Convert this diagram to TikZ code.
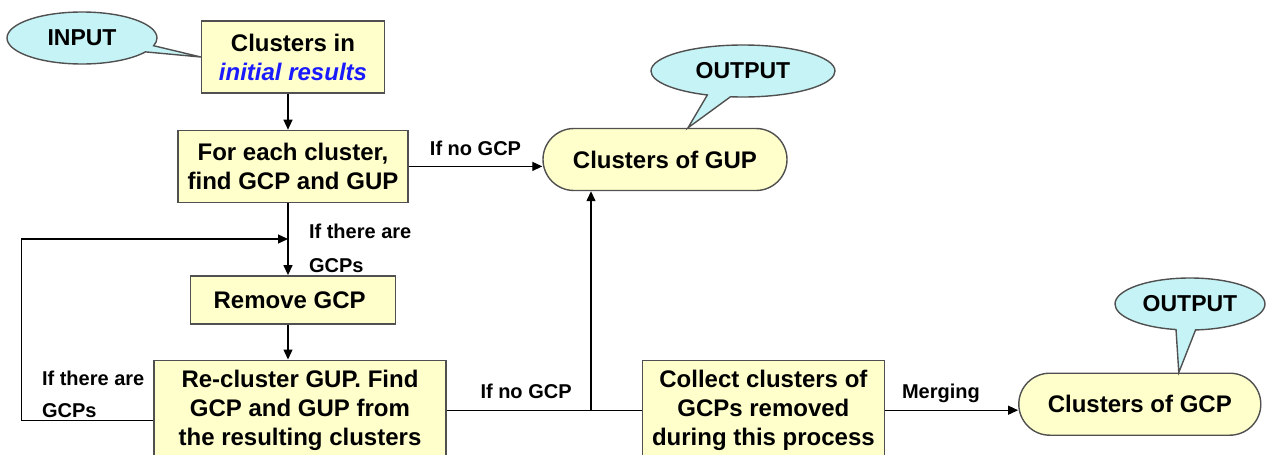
\documentclass[tikz,border=0pt]{standalone}
\usepackage{fontspec}
\setmainfont{Liberation Sans}
\usetikzlibrary{positioning}
\usetikzlibrary{arrows.meta}
\usetikzlibrary{shapes.callouts}
\definecolor{boxyellow}{HTML}{FFFFCC}
\definecolor{calloutcyan}{HTML}{C6F3F6}
\definecolor{initblue}{HTML}{1A1AFF}
\definecolor{edgegray}{HTML}{505050}

\begin{document}
\begin{tikzpicture}[
    x=0.5pt, y=-0.5pt,
    box/.style={
      draw=edgegray,
      fill=boxyellow,
      align=center,
      inner sep=2pt,
      line width=0.7pt,
      font=\fontsize{12}{14.5}\selectfont\bfseries,
    },
    pill/.style={
      box,
      minimum width=122pt,
      minimum height=31pt,
      rounded corners=15.5pt,
    },
    tag/.style={
      ellipse callout,
      draw=edgegray,
      fill=calloutcyan,
      line width=0.7pt,
      minimum height=26pt,
      inner sep=1pt,
      font=\fontsize{11.5}{13}\selectfont\bfseries,
    },
    cond/.style={
      font=\fontsize{10}{11}\selectfont\bfseries,
      align=left,
      text depth=0pt,
    },
    flow/.style={
      -{Triangle[length=5pt,width=4.5pt]},
      line width=0.65pt,
    },
    ]
    \useasboundingbox (0,0) rectangle (1271,455);

    % main column
    \node[box, minimum width=91.5pt, minimum height=36pt] (init) at (293,57) {
      Clusters in \\ \textcolor{initblue}{\textit{initial results}}
    };
    \node[box, minimum width=115pt, minimum height=36pt, below=18pt of init] (find) {
      For each cluster, \\ find GCP and GUP
    };
    \node[box, minimum width=102.5pt, minimum height=24pt, below=36pt of find] (removegcp) {
      Remove GCP
    };
    \node[box, minimum width=146pt, minimum height=50pt, below=17.5pt of removegcp, xshift=3.5pt] (recluster) {
      Re-cluster GUP. Find \\ GCP and GUP from \\ the resulting clusters
    };
    \node[box, minimum width=121pt, minimum height=50pt, right=97.5pt of recluster] (collect) {
      Collect clusters of \\ GCPs removed \\ during this process
    };

    % results
    \node[pill] (gup) at (665,159.5) {Clusters of GUP};
    \node[pill, minimum width=121pt, right=66.5pt of collect, yshift=3pt] (gcp) {Clusters of GCP};

    % callouts
    \node[tag, minimum width=75pt, callout absolute pointer={(init.west)}] (input) at (82,38) {INPUT};
    \node[tag, minimum width=92pt, callout absolute pointer={([xshift=11.5pt]gup.north)}] (outgup) at (743,71) {OUTPUT};
    \node[tag, minimum width=75pt, callout absolute pointer={([xshift=19.5pt]gcp.north)}] (outgcp) at (1190,304) {OUTPUT};

    \coordinate (spine) at (288,0);
    \coordinate (loopin) at (288,239);
    \coordinate (joinx) at (591,0);
    \coordinate (join) at (recluster.east -| joinx);

    \draw[flow] (init.south -| spine) -- (find.north -| spine);
    \draw[flow] (find.south -| spine) -- (removegcp.north -| spine);
    \draw[flow] (removegcp.south -| spine) -- (recluster.north -| spine);
    \draw[flow] (find.east) -- (find.east -| gup.west)
      node[cond, midway, above=2pt] {If no GCP};
    \draw[flow] ([yshift=-5pt]recluster.west) -| ([xshift=-66pt]recluster.west |- loopin) -- (loopin);
    \draw[line width=0.65pt] (recluster.east) -- (join)
      node[cond, pos=0.55, above=2pt] {If no GCP} -- (collect.west);
    \draw[flow] (join) -- (join |- gup.south);
    \draw[flow] (collect.east) -- (collect.east -| gcp.west)
      node[cond, pos=0.42, above=2pt] {Merging};

    \node[cond, anchor=base west] (gcpsright) at (302,272) {If there are \\[6pt] GCPs};
    \node[cond, anchor=base west] (gcpsleft) at (35,417) {If there are \\[5pt] GCPs};
  \end{tikzpicture}
\end{document}
